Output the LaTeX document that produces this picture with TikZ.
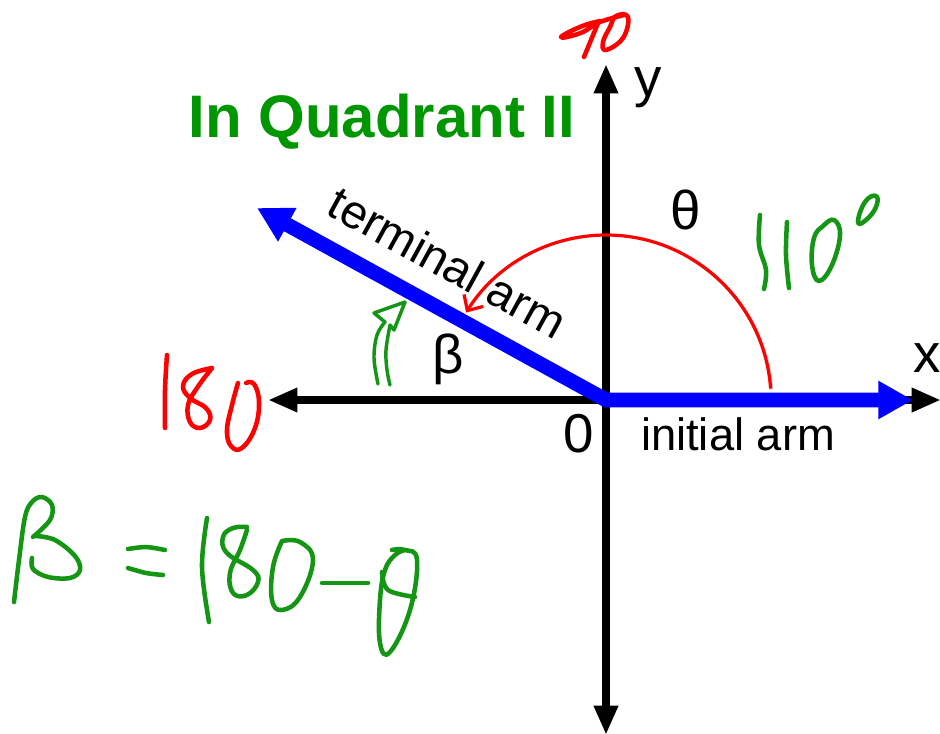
\documentclass[tikz,border=0pt]{standalone}
\usepackage{fontspec}
\setmainfont{Liberation Sans}
\usetikzlibrary{arrows.meta}
\definecolor{tgreen}{RGB}{0,150,0}
\definecolor{hgreen}{RGB}{20,150,20}
\definecolor{ablue}{RGB}{0,0,255}
\definecolor{hred}{RGB}{255,0,0}
\begin{document}
\begin{tikzpicture}[x=0.75pt,y=-0.75pt,
  axisline/.style={line width=6pt,{Triangle[length=22pt,width=17pt]}-{Triangle[length=22pt,width=17pt]}},
  armline/.style={line width=11pt,ablue,line join=miter,{Triangle[length=26pt,width=27pt]}-{Triangle[length=26pt,width=27pt]}},
  arcline/.style={line width=2.4pt,hred,-{Straight Barb[length=9pt,width=17pt,line width=2.4pt]}},
  hand/.style={line width=3.4pt,line cap=round,line join=round},
  lbl/.style={inner sep=0pt,font=\fontsize{34}{40}\selectfont},
  sym/.style={inner sep=0pt,font=\fontsize{41}{48}\selectfont}]
\path[use as bounding box,fill=white] (0,0) rectangle (940,733);

% axes
\coordinate (O) at (606,400);
\coordinate (xL) at (268,400);
\coordinate (xR) at (941,400);
\coordinate (yT) at (606,64);
\coordinate (yB) at (606,735);
\draw[axisline] (xL) -- (xR);
\draw[axisline] (yB) -- (yT);

% arms
\coordinate (tT) at (257,208);
\coordinate (tI) at (913,400);
\draw[armline] (tT) -- (O) -- (tI);

% theta arc (with faint shadow)
\coordinate (aS) at ({606+165*cos(4)},{400-165*sin(4)});
\coordinate (aSs) at ({607+165*cos(4)},{401-165*sin(4)});
\draw[line width=2.4pt,black!25] (aSs) arc[start angle=-4,end angle=-60,radius=165];
\draw[arcline] (aS) arc[start angle=-4,end angle=-148,radius=165];

% labels
\node[inner sep=0pt,anchor=base,text=tgreen,font=\bfseries\fontsize{45}{52}\selectfont] (title) at (382,137) {In Quadrant II};
\node[sym,anchor=base] (ylab) at (648,96) {y};
\node[sym,anchor=base] (xlab) at (927,372) {x};
\node[sym,anchor=base] (theta) at (686,229) {θ};
\node[sym,anchor=base] (beta) at (448,373) {β};
\node[sym,anchor=base] (zero) at (579,452) {0};
\node[lbl,anchor=base] (init) at (738,450) {initial arm};
\node[inner sep=0pt,font=\fontsize{35.5}{42}\selectfont,rotate=-28.7] (term) at (448,262) {terminal arm};

% red handwriting: 90
\draw[hand,hred] plot[smooth,tension=0.6] coordinates {(600,21) (585,25) (569,32) (561,37) (567,37) (583,32) (600,22) (624,15)};
\draw[hand,hred] (598,23) -- (584,57);
\draw[hand,hred] plot[smooth cycle,tension=0.7] coordinates {(616,16) (628,17) (623,38) (606,50) (603,42) (610,27)};

% red handwriting: 180
\draw[hand,hred] plot[smooth,tension=0.6] coordinates {(167,355) (165,390) (165,428)};
\draw[hand,hred] plot[smooth,tension=0.7] coordinates {(212,368) (192,374) (183,386) (190,398) (206,408) (210,420) (200,428) (190,422) (188,405) (197,388) (212,368)};
\draw[hand,hred] plot[smooth,tension=0.7] coordinates {(238,383) (232,405) (227,430) (231,446) (242,448) (255,428) (259,402) (254,384) (246,383)};

% green handwriting: 110 degrees
\draw[hand,hgreen] plot[smooth,tension=0.6] coordinates {(760,215) (759,245) (766,270) (764,289)};
\draw[hand,hgreen] plot[smooth,tension=0.6] coordinates {(787,222) (786,255) (789,288)};
\draw[hand,hgreen] plot[smooth cycle,tension=0.7] coordinates {(823,226) (834,220) (840,235) (832,265) (819,281) (812,265) (814,238)};
\draw[hand,hgreen] plot[smooth cycle,tension=0.8] coordinates {(858,222) (865,202) (876,196) (876,207) (866,220)};

% green curved arrow
\draw[hand,hgreen,line width=2.6pt] plot[smooth,tension=0.6] coordinates {(378,384) (374,358) (377,335) (385,322)} -- (374,313) -- (405,302) -- (394,330) -- (390,325) plot[smooth,tension=0.6] coordinates {(390,325) (386,350) (387,370) (390,385)};

% green handwriting: beta = 180 - theta
\draw[hand,hgreen] plot[smooth,tension=0.6] coordinates {(14,602) (19,560) (25,517) (32,502) (42,497) (52,505) (50,520) (33,537)};
\draw[hand,hgreen] plot[smooth,tension=0.6] coordinates {(36,536) (55,540) (75,556) (80,570) (70,578) (48,577) (33,569) (32,558)};
\draw[hand,hgreen] plot[smooth,tension=0.5] coordinates {(128,549) (146,547) (165,550)};
\draw[hand,hgreen] plot[smooth,tension=0.5] coordinates {(128,568) (146,573) (163,575)};
\draw[hand,hgreen] plot[smooth,tension=0.6] coordinates {(207,518) (202,567) (209,622)};
\draw[hand,hgreen] plot[smooth,tension=0.7] coordinates {(247,527) (233,528) (223,537) (227,553) (253,570) (258,582) (247,595) (233,593) (230,573) (240,550) (247,530)};
\draw[hand,hgreen] plot[smooth,tension=0.7] coordinates {(282,541) (300,542) (313,560) (300,597) (282,610) (272,600) (273,567) (282,541)};
\draw[hand,hgreen] (322,583) -- (368,583);
\draw[hand,hgreen] plot[smooth,tension=0.7] coordinates {(392,550) (405,550) (417,560) (410,610) (390,652) (380,643) (380,600) (385,570) (395,555) (405,550)};
\draw[hand,hgreen] plot[smooth,tension=0.6] coordinates {(382,572) (388,590) (415,597)};
\end{tikzpicture}
\end{document}
